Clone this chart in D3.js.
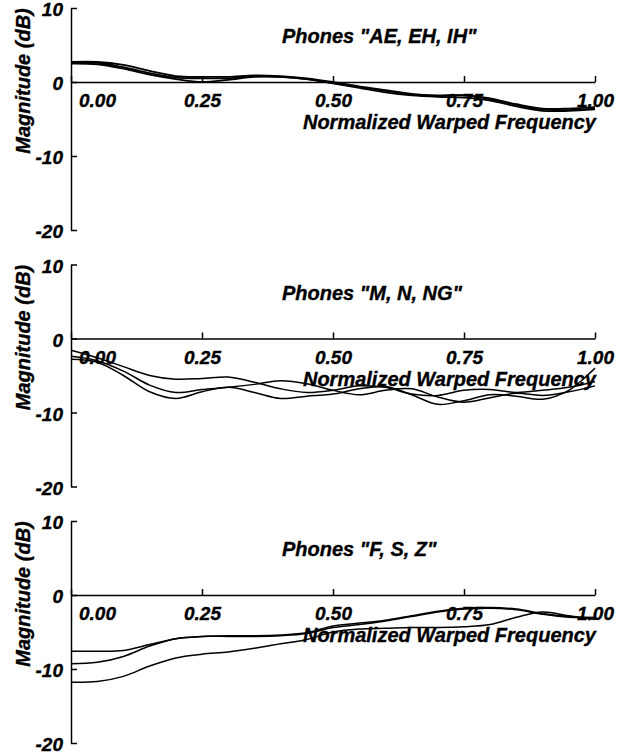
<!DOCTYPE html>
<html>
<head>
<meta charset="utf-8">
<script src="https://cdn.jsdelivr.net/npm/d3@7"></script>
<style>
  body { margin: 0; background: #fff; }
  text { font-family: "Liberation Sans", Arial, Helvetica, sans-serif; font-weight: bold; font-style: italic; stroke: #000; stroke-width: 0.35px; }
</style>
</head>
<body>
<div id="chart"></div>
<script>
const FREQS = [0, 0.05, 0.1, 0.15, 0.2, 0.25, 0.3, 0.35, 0.4, 0.45, 0.5,
    0.55, 0.6, 0.65, 0.7, 0.75, 0.8, 0.85, 0.9, 0.95, 1];
const X_TICKS = [0, 0.25, 0.5, 0.75, 1];
const Y_TICKS = [10, 0, -10, -20];
const PANEL_TITLES = ['Phones "AE, EH, IH"', 'Phones "M, N, NG"', 'Phones "F, S, Z"'];

// magnitude (dB) of each phone, sampled at FREQS
const vowelsA = [2.7, 2.7, 2.3, 1.5, 0.8, 0.7, 0.7, 0.9, 0.8, 0.5, 0.0, -0.6, -1.1, -1.6, -1.8, -1.8, -2.2, -3.0, -3.6, -3.6, -3.4];
const vowelsB = [2.5, 2.4, 1.8, 1.0, 0.4, 0.0, 0.3, 0.7, 0.7, 0.4, -0.2, -0.8, -1.4, -1.8, -2.0, -2.1, -2.5, -3.3, -3.9, -3.9, -3.7];
const vowelsC = [2.6, 2.6, 2.0, 1.2, 0.6, 0.5, 0.5, 0.8, 0.7, 0.4, -0.1, -0.7, -1.2, -1.7, -1.9, -1.8, -2.3, -3.1, -3.7, -3.8, -3.6];

const nasalsA = [-1.6, -2.6, -3.8, -5.0, -5.5, -5.4, -5.2, -5.9, -6.8, -7.3, -7.0, -6.4, -6.6, -7.5, -7.7, -7.0, -6.9, -7.3, -7.0, -6.6, -5.8];
const nasalsB = [-2.4, -3.0, -4.4, -6.3, -7.3, -6.9, -6.6, -6.2, -5.7, -6.1, -7.0, -7.6, -7.0, -6.8, -7.9, -8.6, -8.0, -7.4, -7.7, -7.2, -6.4];
const nasalsC = [-2.8, -3.2, -5.0, -7.2, -8.1, -7.2, -6.6, -7.3, -8.1, -7.8, -7.5, -6.8, -6.5, -7.6, -8.9, -8.4, -7.6, -7.8, -8.2, -7.0, -4.0];

const fricA = [-7.6, -7.6, -7.5, -6.7, -5.9, -5.6, -5.6, -5.6, -5.5, -5.2, -4.4, -4.0, -3.5, -2.9, -2.3, -1.9, -1.8, -2.0, -2.6, -3.0, -3.0];
const fricB = [-9.3, -9.1, -8.3, -6.9, -5.9, -5.6, -5.5, -5.5, -5.4, -5.1, -4.2, -3.8, -3.4, -2.8, -2.2, -1.8, -1.7, -1.9, -2.5, -2.9, -3.1];
const fricC = [-11.8, -11.7, -11.0, -9.6, -8.5, -8.0, -7.7, -7.2, -6.6, -6.0, -5.0, -4.6, -4.5, -4.4, -4.4, -4.3, -4.0, -3.0, -2.3, -2.8, -3.3];

const PANELS = [
    { title: PANEL_TITLES[0], series: [vowelsA, vowelsB, vowelsC] },
    { title: PANEL_TITLES[1], series: [nasalsA, nasalsB, nasalsC] },
    { title: PANEL_TITLES[2], series: [fricA, fricB, fricC] },
];

const width = 626;
const height = 755;
const panelTop = 8;
const panelStep = 256.5;
const panelHeight = 222;
const tickFont = 19;
const titleFont = 20;

const svg = d3.select('#chart')
    .append('svg')
    .attr('width', width)
    .attr('height', height);

const x = d3.scaleLinear()
    .domain([0, 1])
    .range([71, 595]);

PANELS.forEach((panel, i) => {
    const top = panelTop + i * panelStep;
    const y = d3.scaleLinear()
        .domain([-20, 10])
        .range([top + panelHeight, top]);
    const g = svg.append('g');

    // y axis, ticks pointing inward and labels hanging below each tick
    const yAxis = g.append('g')
        .attr('transform', `translate(${x(0)},0)`)
        .call(d3.axisLeft(y).tickValues(Y_TICKS).tickFormat((d) => String(d))
            .tickSize(-6).tickSizeOuter(0).tickPadding(8));
    yAxis.selectAll('text')
        .attr('dy', '0.42em');

    // x axis sits on the 0 dB line
    const xAxis = g.append('g')
        .attr('transform', `translate(0,${y(0)})`)
        .call(d3.axisBottom(x).tickValues(X_TICKS).tickFormat(d3.format('.2f'))
            .tickSize(-6).tickSizeOuter(0).tickPadding(12));
    xAxis.selectAll('.tick text')
        .attr('dx', (d) => (d === 0 ? 26 : 0));

    [yAxis, xAxis].forEach((ax) => {
        ax.attr('font-family', null).attr('font-size', tickFont);
        ax.selectAll('line, path').attr('stroke', '#000').attr('stroke-width', 1.5);
        ax.selectAll('text').attr('fill', '#000');
    });

    g.append('text')
        .attr('x', 282)
        .attr('y', top + 35)
        .attr('font-size', titleFont)
        .text(panel.title);

    g.append('text')
        .attr('x', 596)
        .attr('y', y(0) + 47)
        .attr('text-anchor', 'end')
        .attr('font-size', titleFont)
        .text('Normalized Warped Frequency');

    g.append('text')
        .attr('transform', `translate(30,${y(0) - 1}) rotate(-90)`)
        .attr('text-anchor', 'middle')
        .attr('font-size', titleFont)
        .text('Magnitude (dB)');

    const line = d3.line()
        .x((d, k) => x(FREQS[k]))
        .y((d) => y(d))
        .curve(d3.curveCatmullRom.alpha(0.5));

    g.selectAll('path.curve')
        .data(panel.series)
        .enter()
        .append('path')
        .attr('class', 'curve')
        .attr('fill', 'none')
        .attr('stroke', '#000')
        .attr('stroke-width', i === 0 ? 1.8 : 1.5)
        .attr('d', line);
});
</script>
</body>
</html>
